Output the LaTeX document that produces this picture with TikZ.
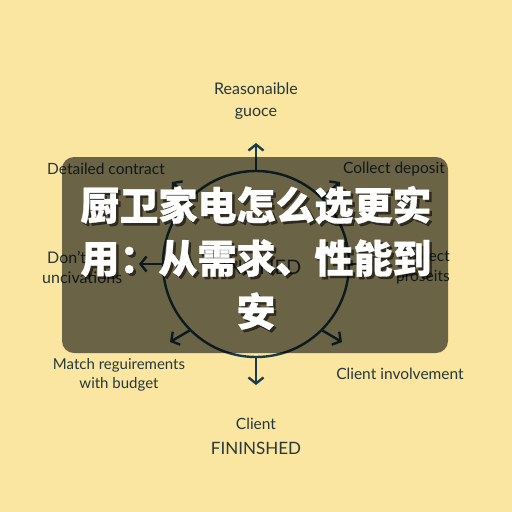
\documentclass[tikz,border=0pt]{standalone}
\usepackage{fontspec}
\setmainfont{Lato}
\newfontfamily\cjk{Noto Sans CJK SC}[BoldFeatures={FakeBold=0.8}]
\usetikzlibrary{arrows.meta}
\definecolor{bgc}{HTML}{FAE6A0}
\definecolor{labc}{HTML}{26383A}
\definecolor{arrc}{HTML}{1A3D4E}
\begin{document}
\begin{tikzpicture}[x=1pt,y=-1pt,
  lbl/.style={font=\fontsize{15.5}{21}\selectfont, text=labc, align=center, inner sep=0pt},
  arr/.style={draw=arrc, line width=2.4pt, -{Straight Barb[length=6pt,width=15pt]}},
  ttl/.style={font=\cjk\bfseries\fontsize{39}{53}\selectfont, align=center, inner sep=0pt}
]
\useasboundingbox (0,0) rectangle (512,512);
\fill[bgc] (0,0) rectangle (512,512);
% circle and centre text
\node[circle, draw=arrc, line width=2.4pt, minimum size=186pt, inner sep=0pt] (c) at (256,264) {};
\node[font=\fontsize{20}{24}\selectfont, text=labc, inner sep=0pt] (fin) at (256,267) {FINISHED};
% arrow ends
\coordinate (tu) at (256,143);
\coordinate (td) at (256,385);
\coordinate (tl) at (139,264);
\coordinate (tr) at (373,264);
\coordinate (tul) at (172,182);
\coordinate (tur) at (340,182);
\coordinate (tll) at (170,342);
\coordinate (tlr) at (342,342);
\draw[arr] (c.north) -- (tu);
\draw[arr] (c.south) -- (td);
\draw[arr] (c.west) -- (tl);
\draw[arr] (c.east) -- (tr);
\draw[arr] (c.135) -- (tul);
\draw[arr] (c.45) -- (tur);
\draw[arr] (c.-135) -- (tll);
\draw[arr] (c.-45) -- (tlr);
% labels
\node[lbl, font=\fontsize{16}{22}\selectfont] (l1) at (256,101) {Reasonaible\\guoce};
\node[lbl] (l2) at (106,169) {Detailed contract};
\node[lbl] (l3) at (394,169) {Collect deposit};
\node[lbl, align=left, anchor=west, font=\fontsize{16}{20}\selectfont] (l4) at (42,267) {\hspace*{5pt}Don't\\uncivations};
\node[lbl, align=right, anchor=east, font=\fontsize{15.5}{20}\selectfont] (l5) at (450,267) {Protect\\proseits};
\node[lbl, font=\fontsize{15}{19}\selectfont] (l6) at (119,375) {Match reguirements\\with budget};
\node[lbl] (l7) at (400,374) {Client involvement};
\node[lbl] (l8) at (256,424) {Client};
\node[lbl, font=\fontsize{17}{20}\selectfont] (l9) at (256,448) {FININSHED};
% overlay
\node[fill=black, fill opacity=0.57, rounded corners=12pt, minimum width=386pt, minimum height=196pt, inner sep=0pt] (ov) at (255,255) {};
\node[ttl, text=black, text opacity=0.55] (tsh) at (258.5,260.5) {厨卫家电怎么选更实\\用：从需求、性能到\\安};
\node[ttl, text=white] (title) at (256,258) {厨卫家电怎么选更实\\用：从需求、性能到\\安};
\end{tikzpicture}
\end{document}
